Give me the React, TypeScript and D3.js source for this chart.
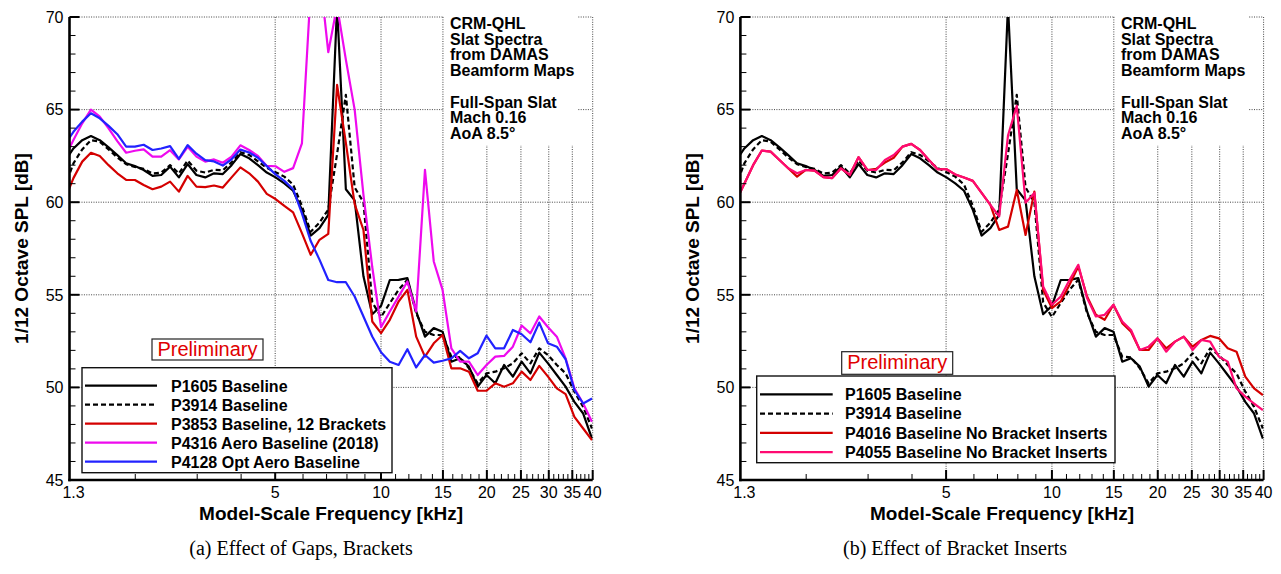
import React from 'react';
import * as d3 from 'd3';

// 1/12-octave band centres (kHz)
const bandsKHz = [
  1.259, 1.334, 1.413, 1.496, 1.585, 1.679, 1.778, 1.884, 1.995, 2.113,
  2.239, 2.371, 2.512, 2.661, 2.818, 2.985, 3.162, 3.350, 3.548, 3.758,
  3.981, 4.217, 4.467, 4.732, 5.012, 5.309, 5.623, 5.957, 6.310, 6.683,
  7.079, 7.499, 7.943, 8.414, 8.913, 9.441, 10.0, 10.593, 11.220, 11.885,
  12.589, 13.335, 14.125, 14.962, 15.849, 16.788, 17.783, 18.836, 19.953, 21.135,
  22.387, 23.714, 25.119, 26.607, 28.184, 29.854, 31.623, 33.497, 35.481, 37.584,
  39.811,
];

// 1/12 octave SPL [dB]
const p1605 = [
  62.2, 62.9, 63.35, 63.57, 63.35, 62.96, 62.54, 62.1, 61.95, 61.74,
  61.42, 61.47, 61.92, 61.34, 62.06, 61.47, 61.34, 61.56, 61.52, 62.0,
  62.6, 62.37, 62.0, 61.6, 61.34, 61.02, 60.62, 59.59, 58.2, 58.6,
  59.32, 70.6, 60.7, 60.1, 56.0, 53.95, 54.4, 55.8, 55.81, 55.9,
  54.1, 52.74, 53.2, 53.01, 51.39, 51.57, 51.12, 50.04, 50.67, 50.22,
  51.21, 50.58, 51.39, 50.76, 51.88, 51.3, 50.67, 50.04, 49.22, 48.59,
  47.24,
];
const p3914 = [
  60.8, 62.1, 62.85, 63.35, 63.27, 62.85, 62.42, 62.05, 61.9, 61.8,
  61.55, 61.6, 62.0, 61.55, 62.25, 61.7, 61.6, 61.75, 61.72, 62.15,
  62.7, 62.55, 62.2, 61.85, 61.62, 61.38, 60.95, 59.8, 58.4, 58.9,
  59.6, 62.6, 65.8, 60.8, 60.0, 54.6, 53.8, 54.55, 55.27, 55.81,
  54.0, 53.0, 52.83, 52.83, 51.66, 51.62, 51.03, 50.22, 50.76, 50.85,
  51.03, 51.3, 51.84, 51.3, 52.11, 51.75, 51.21, 50.76, 49.77, 48.95,
  47.78,
];
const p3853 = [
  60.12, 61.3, 62.19, 62.67, 62.49, 62.0, 61.56, 61.2, 61.2, 60.93,
  60.7, 60.84, 61.11, 60.57, 61.42, 60.84, 60.81, 60.9, 60.79, 61.34,
  61.88, 61.56, 61.11, 60.45, 60.17, 59.8, 59.45, 58.33, 57.16, 57.97,
  58.29, 66.33, 63.2, 59.9, 58.5, 53.56, 52.93, 53.65, 54.64, 55.27,
  52.74, 51.66, 52.38, 52.83, 51.03, 51.03, 50.85, 49.82, 49.82, 50.22,
  50.04, 50.22, 50.85, 50.4, 51.16, 50.58, 49.95, 49.64, 48.41, 47.78,
  47.15,
];
const p4316 = [
  62.4, 63.36, 64.26, 65.0, 64.62, 63.99, 63.3, 62.67, 62.78, 62.85,
  62.46, 62.46, 62.81, 62.31, 62.99, 62.46, 62.19, 62.31, 62.13, 62.46,
  63.07, 62.82, 62.5, 61.96, 61.94, 61.64, 61.84, 63.18, 71.5, 72.5,
  68.1, 70.6, 67.7, 65.0, 60.4, 56.5, 53.25, 54.1, 54.9, 55.72,
  54.1, 61.75, 56.8, 55.27, 52.11, 51.39, 51.39, 50.67, 51.21, 51.66,
  51.7, 52.2, 53.34, 52.92, 53.83, 53.25, 52.74, 51.57, 49.95, 49.13,
  48.14,
];
const p4128 = [
  63.1, 63.8, 64.35, 64.8, 64.53, 64.12, 63.67, 63.0, 63.0, 63.1,
  62.82, 62.9, 63.03, 62.34, 63.08, 62.62, 62.27, 62.2, 61.98, 62.32,
  62.84, 62.68, 62.4, 61.95, 61.5, 61.15, 60.7, 59.4, 57.9, 56.9,
  55.8, 55.68, 55.68, 54.91, 53.83, 52.75, 51.9, 51.39, 51.21, 52.06,
  51.08, 51.75, 51.34, 51.44, 51.57, 51.97, 51.57, 51.84, 52.8, 52.11,
  52.11, 53.1, 52.87, 52.44, 53.5, 52.38, 52.2, 51.52, 49.86, 49.13,
  49.4,
];
const p4016 = [
  60.0, 61.0, 62.0, 62.79, 62.73, 62.28, 61.83, 61.38, 61.74, 61.71,
  61.35, 61.3, 61.83, 61.47, 62.43, 61.74, 61.8, 62.14, 62.4, 63.0,
  63.15, 62.82, 62.28, 61.78, 61.78, 61.5, 61.33, 61.15, 60.5, 59.86,
  58.5, 58.68, 60.66, 58.23, 60.57, 55.27, 54.28, 54.64, 55.54, 56.53,
  54.91, 53.92, 53.65, 54.46, 53.47, 53.01, 52.02, 52.02, 52.65, 52.11,
  52.47, 52.74, 52.2, 52.56, 52.78, 52.65, 52.11, 51.93, 50.58, 49.95,
  49.58,
];
const p4055 = [
  60.0, 61.0, 62.0, 62.79, 62.73, 62.28, 61.83, 61.56, 61.74, 61.71,
  61.35, 61.3, 61.83, 61.47, 62.43, 61.74, 61.74, 62.28, 62.55, 63.0,
  63.15, 62.82, 62.28, 61.78, 61.78, 61.5, 61.33, 61.15, 60.5, 59.86,
  59.23, 63.6, 65.2, 59.97, 60.5, 55.45, 54.46, 54.9, 55.8, 56.62,
  54.82, 53.83, 53.92, 54.46, 53.56, 53.1, 52.02, 52.2, 52.65, 51.93,
  52.47, 52.74, 52.02, 52.56, 52.47, 51.66, 51.39, 49.95, 49.5, 49.13,
  48.77,
];

const freqTickLabels = [1.3, 5, 10, 15, 20, 25, 30, 35, 40];
const splTickLabels = [45, 50, 55, 60, 65, 70];
const noteLines = [
  'CRM-QHL', 'Slat Spectra', 'from DAMAS', 'Beamform Maps', '',
  'Full-Span Slat', 'Mach 0.16', 'AoA 8.5°',
];
const xTitle = 'Model-Scale Frequency [kHz]';
const yTitle = '1/12 Octave SPL [dB]';
const stampText = 'Preliminary';

type Series = { name: string; values: number[]; color: string; dash?: string };

const gapSeries: Series[] = [
  { name: 'P1605 Baseline', values: p1605, color: '#000000' },
  { name: 'P3914 Baseline', values: p3914, color: '#000000', dash: '5 3' },
  { name: 'P3853 Baseline, 12 Brackets', values: p3853, color: '#d40000' },
  { name: 'P4316 Aero Baseline (2018)', values: p4316, color: '#ee0aee' },
  { name: 'P4128 Opt Aero Baseline', values: p4128, color: '#2222ff' },
];
const insertSeries: Series[] = [
  { name: 'P1605 Baseline', values: p1605, color: '#000000' },
  { name: 'P3914 Baseline', values: p3914, color: '#000000', dash: '5 3' },
  { name: 'P4016 Baseline No Bracket Inserts', values: p4016, color: '#d40000' },
  { name: 'P4055 Baseline No Bracket Inserts', values: p4055, color: '#ff0a72' },
];

const SANS = '"Liberation Sans", Arial, Helvetica, sans-serif';
const SERIF = '"Liberation Serif", "Times New Roman", serif';
const TOP = 17;
const BOTTOM = 480;

type Box = { x: number; y: number; w: number; h: number };
type LegendLayout = Box & { row0: number; rowGap: number; s0: number; s1: number; tx: number };

type PanelProps = {
  id: string;
  x0: number;
  x1: number;
  series: Series[];
  legend: LegendLayout;
  stamp: Box & { base: number };
  caption: string;
  captionX: number;
};

function Panel({ id, x0, x1, series, legend, stamp, caption, captionX }: PanelProps) {
  const x = d3.scaleLog().domain([1.3, 40]).range([x0, x1]);
  const y = d3.scaleLinear().domain([45, 70]).range([BOTTOM, TOP]);
  const line = d3
    .line<number>()
    .x((_, i) => x(bandsKHz[i]))
    .y((d) => y(d));

  const majorX = freqTickLabels.filter((v) => v >= 5);
  const minorX = d3.range(2, 40).filter((v) => v % 5 !== 0);
  const minorY = d3.range(45, 71).filter((v) => v % 5 !== 0);
  const gridY = splTickLabels.filter((v) => v > 45);
  const noteX = x0 + 380.5;
  const midX = (x0 + x1) / 2;
  const midY = (TOP + BOTTOM) / 2;

  return (
    <g>
      <defs>
        <clipPath id={`clip-${id}`}>
          <rect x={x0} y={TOP} width={x1 - x0} height={BOTTOM - TOP} />
        </clipPath>
      </defs>

      {/* dotted grid */}
      <g stroke="#444" strokeWidth={1} strokeDasharray="1 1.4" fill="none">
        {majorX.map((v) => (
          <line key={`gx${v}`} x1={x(v)} x2={x(v)} y1={TOP} y2={BOTTOM} />
        ))}
        {gridY.map((v) => (
          <line key={`gy${v}`} x1={x0} x2={x1} y1={y(v)} y2={y(v)} />
        ))}
      </g>

      {/* annotation block */}
      <rect x={x0 + 374.5} y={TOP - 3} width={134} height={131} fill="#fff" />
      <g fontFamily={SANS} fontWeight="bold" fontSize={16} fill="#000">
        {noteLines.map((t, i) =>
          t ? (
            <text key={i} x={noteX} y={29 + i * 15.7}>
              {t}
            </text>
          ) : null,
        )}
      </g>

      {/* curves */}
      <g clipPath={`url(#clip-${id})`} fill="none" strokeLinejoin="round">
        {series.map((s) => (
          <path
            key={s.name}
            d={line(s.values) ?? ''}
            stroke={s.color}
            strokeWidth={2.2}
            strokeDasharray={s.dash}
          />
        ))}
      </g>

      {/* ticks */}
      <g stroke="#000">
        {minorX.map((v) => (
          <line key={`mx${v}`} x1={x(v)} x2={x(v)} y1={BOTTOM} y2={BOTTOM - 6} strokeWidth={1} />
        ))}
        {majorX.map((v) => (
          <line key={`Mx${v}`} x1={x(v)} x2={x(v)} y1={BOTTOM} y2={BOTTOM - 10} strokeWidth={2} />
        ))}
        {minorY.map((v) => (
          <line key={`my${v}`} x1={x0} x2={x0 + 6} y1={y(v)} y2={y(v)} strokeWidth={1} />
        ))}
        {splTickLabels.map((v) => (
          <line key={`My${v}`} x1={x0} x2={x0 + 10} y1={y(v)} y2={y(v)} strokeWidth={2} />
        ))}
        <line x1={x0} x2={x0} y1={TOP} y2={BOTTOM + 1.2} strokeWidth={2.6} />
        <line x1={x0 - 1.2} x2={x1} y1={BOTTOM} y2={BOTTOM} strokeWidth={2.6} />
      </g>

      {/* tick labels */}
      <g fontFamily={SANS} fontSize={16} fill="#000">
        {splTickLabels.map((v) => (
          <text key={`ly${v}`} x={x0 - 6} y={y(v) + 5.8} textAnchor="end">
            {v}
          </text>
        ))}
        {freqTickLabels.map((v) => (
          <text key={`lx${v}`} x={x(v) + (v === 1.3 ? 4 : 0)} y={497.5} textAnchor="middle">
            {v}
          </text>
        ))}
      </g>

      {/* axis titles */}
      <text x={midX} y={519.5} textAnchor="middle" fontFamily={SANS} fontWeight="bold" fontSize={19}>
        {xTitle}
      </text>
      <text
        transform={`translate(${x0 - 41.5},${midY}) rotate(-90)`}
        textAnchor="middle"
        fontFamily={SANS}
        fontWeight="bold"
        fontSize={19}
      >
        {yTitle}
      </text>

      {/* stamp */}
      <rect x={stamp.x} y={stamp.y} width={stamp.w} height={stamp.h} fill="#fff" stroke="#222" strokeWidth={1.2} />
      <text
        x={stamp.x + stamp.w / 2}
        y={stamp.base}
        textAnchor="middle"
        fontFamily={SANS}
        fontSize={20}
        fill="#e00000"
      >
        {stampText}
      </text>

      {/* legend */}
      <rect x={legend.x} y={legend.y} width={legend.w} height={legend.h} fill="#fff" stroke="#111" strokeWidth={1.4} />
      {series.map((s, i) => {
        const cy = legend.row0 + i * legend.rowGap;
        return (
          <g key={`lg${s.name}`}>
            <line
              x1={legend.s0}
              x2={legend.s1}
              y1={cy}
              y2={cy}
              stroke={s.color}
              strokeWidth={2.2}
              strokeDasharray={s.dash}
            />
            <text x={legend.tx} y={cy + 5.8} fontFamily={SANS} fontWeight="bold" fontSize={16}>
              {s.name}
            </text>
          </g>
        );
      })}

      {/* caption */}
      <text x={captionX} y={555} textAnchor="middle" fontFamily={SERIF} fontSize={20}>
        {caption}
      </text>
    </g>
  );
}

export default function App() {
  const lx0 = 69.5;
  const lx1 = 592.7;
  const rx0 = 740.4;
  const rx1 = 1263.6;
  return (
    <svg
      width={1281}
      height={574}
      viewBox="0 0 1281 574"
      style={{ position: 'absolute', left: 0, top: 0, background: '#fff' }}
    >
      <rect width={1281} height={574} fill="#fff" />
      <Panel
        id="a"
        x0={lx0}
        x1={lx1}
        series={gapSeries}
        legend={{ x: 82, y: 367.7, w: 310, h: 105, row0: 385.7, rowGap: 19, s0: 85, s1: 157, tx: 171 }}
        stamp={{ x: 152, y: 339, w: 111, h: 21, base: 355.5 }}
        caption="(a) Effect of Gaps, Brackets"
        captionX={301}
      />
      <Panel
        id="b"
        x0={rx0}
        x1={rx1}
        series={insertSeries}
        legend={{ x: 756.7, y: 376, w: 358.3, h: 86.7, row0: 394.3, rowGap: 19.3, s0: 760, s1: 832.7, tx: 845 }}
        stamp={{ x: 841.7, y: 351.7, w: 111, h: 22.6, base: 369 }}
        caption="(b) Effect of Bracket Inserts"
        captionX={955}
      />
    </svg>
  );
}
